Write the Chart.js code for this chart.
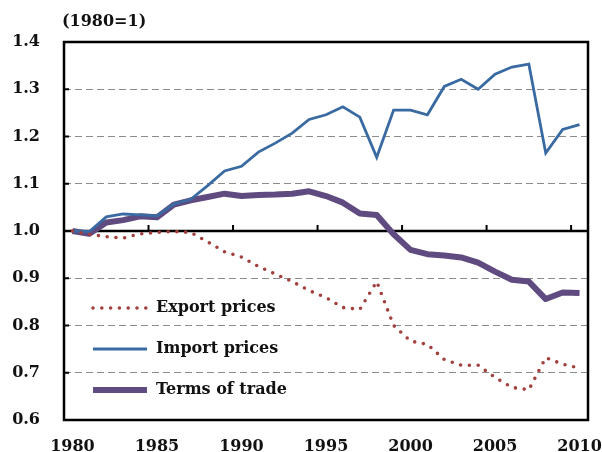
<!DOCTYPE html>
<html>
<head>
<meta charset="utf-8">
<script src="https://cdn.jsdelivr.net/npm/chart.js@4.4.1/dist/chart.umd.min.js"></script>
<style>
    html, body { margin: 0; padding: 0; background: #fff; }
</style>
</head>
<body>
<canvas id="tradeChart" width="602" height="452"></canvas>
<script>
const years = ['1980', '1981', '1982', '1983', '1984', '1985', '1986', '1987', '1988', '1989',
    '1990', '1991', '1992', '1993', '1994', '1995', '1996', '1997', '1998', '1999',
    '2000', '2001', '2002', '2003', '2004', '2005', '2006', '2007', '2008', '2009', '2010'];

const exportPrices = [1.000, 0.993, 0.988, 0.985, 0.994, 0.997, 0.999, 0.997, 0.977, 0.956,
    0.945, 0.925, 0.909, 0.893, 0.874, 0.859, 0.838, 0.834, 0.893, 0.800,
    0.767, 0.760, 0.728, 0.716, 0.716, 0.690, 0.669, 0.664, 0.732, 0.718, 0.710];

const importPrices = [1.000, 0.999, 1.030, 1.036, 1.034, 1.032, 1.057, 1.067, 1.096, 1.127,
    1.137, 1.167, 1.186, 1.207, 1.236, 1.246, 1.263, 1.241, 1.156, 1.256,
    1.256, 1.246, 1.306, 1.321, 1.300, 1.332, 1.347, 1.353, 1.165, 1.215, 1.225];

const termsOfTrade = [1.000, 0.994, 1.018, 1.023, 1.031, 1.029, 1.056, 1.065, 1.072, 1.079,
    1.074, 1.076, 1.077, 1.079, 1.084, 1.074, 1.060, 1.037, 1.034, 0.993,
    0.960, 0.951, 0.948, 0.944, 0.933, 0.914, 0.897, 0.893, 0.856, 0.870, 0.869];

const seriesNames = ['Export prices', 'Import prices', 'Terms of trade'];
const unitLabel = '(1980=1)';
const baseValue = 1.0;

const textFont = { family: '"DejaVu Serif", serif', size: 16, weight: 'bold' };
const fontCss = 'bold 16px "DejaVu Serif", serif';

// axis box, baseline at 1.0, tick marks, unit label and legend
const framePlugin = {
    id: 'frame',
    beforeDatasetsDraw(chart) {
        const { ctx, chartArea, scales } = chart;
        const x = scales.x, y = scales.y;
        const baseY = y.getPixelForValue(baseValue);
        ctx.save();
        ctx.strokeStyle = '#000';
        ctx.lineWidth = 2.5;
        ctx.beginPath();
        ctx.moveTo(chartArea.left, baseY);
        ctx.lineTo(chartArea.right, baseY);
        ctx.stroke();

        // x tick marks between categories, every 5 years, pointing up
        ctx.lineWidth = 2;
        for (let i = 5; i < years.length; i += 5) {
            const px = (x.getPixelForValue(i - 1) + x.getPixelForValue(i)) / 2;
            ctx.beginPath();
            ctx.moveTo(px, baseY);
            ctx.lineTo(px, baseY - 6);
            ctx.stroke();
        }

        // y tick marks inside the left border
        y.ticks.forEach(t => {
            if (t.value <= y.min || t.value >= y.max) return;
            const py = y.getPixelForValue(t.value);
            ctx.beginPath();
            ctx.moveTo(chartArea.left, py);
            ctx.lineTo(chartArea.left + 5, py);
            ctx.stroke();
        });
        ctx.restore();
    },
    afterDraw(chart) {
        const { ctx, chartArea } = chart;
        ctx.save();
        ctx.strokeStyle = '#000';
        ctx.lineWidth = 2.5;
        ctx.strokeRect(chartArea.left, chartArea.top, chartArea.right - chartArea.left, chartArea.bottom - chartArea.top);

        ctx.fillStyle = '#111';
        ctx.font = fontCss;
        ctx.textAlign = 'left';
        ctx.textBaseline = 'middle';
        ctx.fillText(unitLabel, chartArea.left - 2, chartArea.top - 20);

        // legend inside the plot
        const rowTop = chartArea.top + 266;
        const rowGap = 41;
        chart.data.datasets.forEach((ds, i) => {
            const ly = rowTop + i * rowGap;
            ctx.save();
            ctx.strokeStyle = ds.borderColor;
            ctx.lineWidth = ds.borderWidth;
            ctx.lineCap = ds.borderCapStyle || 'butt';
            ctx.setLineDash(ds.borderDash || []);
            ctx.beginPath();
            ctx.moveTo(chartArea.left + 29, ly);
            ctx.lineTo(chartArea.left + 83, ly);
            ctx.stroke();
            ctx.restore();
            ctx.fillText(ds.label, chartArea.left + 92, ly);
        });
        ctx.restore();
    }
};

new Chart(document.getElementById('tradeChart'), {
    type: 'line',
    data: {
        labels: years,
        datasets: [
            {
                label: seriesNames[0],
                data: exportPrices,
                borderColor: '#a33f3c',
                borderWidth: 3.6,
                borderDash: [0, 8.8],
                borderCapStyle: 'round',
                pointRadius: 0,
                tension: 0,
                fill: false
            },
            {
                label: seriesNames[1],
                data: importPrices,
                borderColor: '#3a6aa2',
                borderWidth: 2.8,
                pointRadius: 0,
                tension: 0,
                fill: false
            },
            {
                label: seriesNames[2],
                data: termsOfTrade,
                borderColor: '#5f4b80',
                borderWidth: 6,
                borderJoinStyle: 'round',
                pointRadius: 0,
                tension: 0,
                fill: false
            }
        ]
    },
    options: {
        responsive: false,
        animation: false,
        layout: { padding: { top: 42, right: 14, left: 0, bottom: 0 } },
        plugins: {
            legend: { display: false },
            tooltip: { enabled: false }
        },
        scales: {
            x: {
                offset: true,
                grid: { display: false },
                border: { display: false },
                ticks: {
                    autoSkip: false,
                    maxRotation: 0,
                    padding: 9,
                    color: '#111',
                    font: textFont,
                    callback: (v, i) => (i % 5 === 0 ? years[i] : '')
                },
                afterFit: s => {
                    s.height = 32;
                    s.paddingLeft = 0;
                    s.paddingRight = 0;
                }
            },
            y: {
                min: 0.6,
                max: 1.4,
                grid: {
                    drawTicks: false,
                    lineWidth: 1,
                    color: c => (c.tick && Math.abs(c.tick.value - baseValue) < 1e-6 ? 'rgba(0,0,0,0)' : '#8c8c8c')
                },
                border: { display: false, dash: [7, 4] },
                ticks: {
                    stepSize: 0.1,
                    padding: 24,
                    color: '#111',
                    font: textFont,
                    callback: v => v.toFixed(1)
                },
                afterFit: s => {
                    s.width = 64;
                    s.paddingTop = 0;
                    s.paddingBottom = 0;
                }
            }
        }
    },
    plugins: [framePlugin]
});
</script>
</body>
</html>
